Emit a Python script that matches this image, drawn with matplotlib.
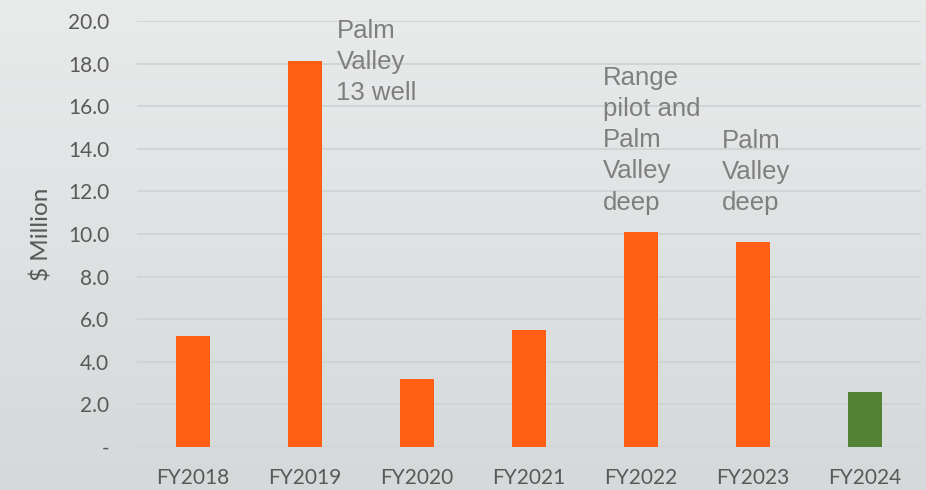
import numpy as np
import matplotlib.pyplot as plt

# chart data
years = ["FY2018", "FY2019", "FY2020", "FY2021", "FY2022", "FY2023", "FY2024"]
spend = [5.2, 18.1, 3.2, 5.5, 10.1, 9.6, 2.6]
bar_colors = ["#ff5f15"] * 6 + ["#548235"]
yticks = [0, 2, 4, 6, 8, 10, 12, 14, 16, 18, 20]
ytick_labels = ["-"] + [f"{v:.1f}" for v in yticks[1:]]

# notes over bars: (category index, text)
notes = [
  (1, "Palm\nValley\n13 well"),
  (4, "Range\npilot and\nPalm\nValley\ndeep"),
  (5, "Palm\nValley\ndeep"),
]

fig = plt.figure(figsize=(9.26, 4.9), dpi=100)

# soft vertical gradient behind everything
bg = fig.add_axes([0, 0, 1, 1], zorder=-10)
grad = np.linspace(0, 1, 256).reshape(-1, 1)
top, bottom = np.array([0.914, 0.922, 0.922]), np.array([0.835, 0.851, 0.855])
img = top + (bottom - top) * grad[..., None]
bg.imshow(img, aspect='auto', extent=[0, 1, 0, 1])
bg.axis('off')

ax = fig.add_axes([0.148, 0.0878, 0.8466, 0.8694])
ax.patch.set_alpha(0)
x = np.arange(len(years))
ax.bar(x, spend, width=0.31, color=bar_colors, zorder=3)

ax.set_xlim(-0.5, len(years) - 0.5)
ax.set_ylim(0, 20)
ax.set_yticks(yticks, ytick_labels)
ax.set_xticks(x, years)
ax.grid(axis='y', color='#cfd2d3', linewidth=1.2, zorder=0)
for s in ax.spines.values():
  s.set_visible(False)
ax.tick_params(length=0, labelcolor='#595959')
ax.tick_params(axis='y', pad=20, labelsize=15)
ax.tick_params(axis='x', pad=15, labelsize=15)
for lbl in ax.get_xticklabels() + ax.get_yticklabels():
  lbl.set_family('Lato')
ax.set_ylabel("$ Million", fontsize=17.5, color='#595959', family='Lato', labelpad=11)

offsets = {1: (0.28, 20.1), 4: (-0.34, 17.9), 5: (-0.28, 14.95)}
for i, txt in notes:
  dx, ytop = offsets[i]
  ax.text(i + dx, ytop, txt, ha='left', va='top', fontsize=18.5, color='#7f7f7f',
          family='Liberation Sans', linespacing=1.38, zorder=4)

fig.savefig("out.png", dpi=100)
